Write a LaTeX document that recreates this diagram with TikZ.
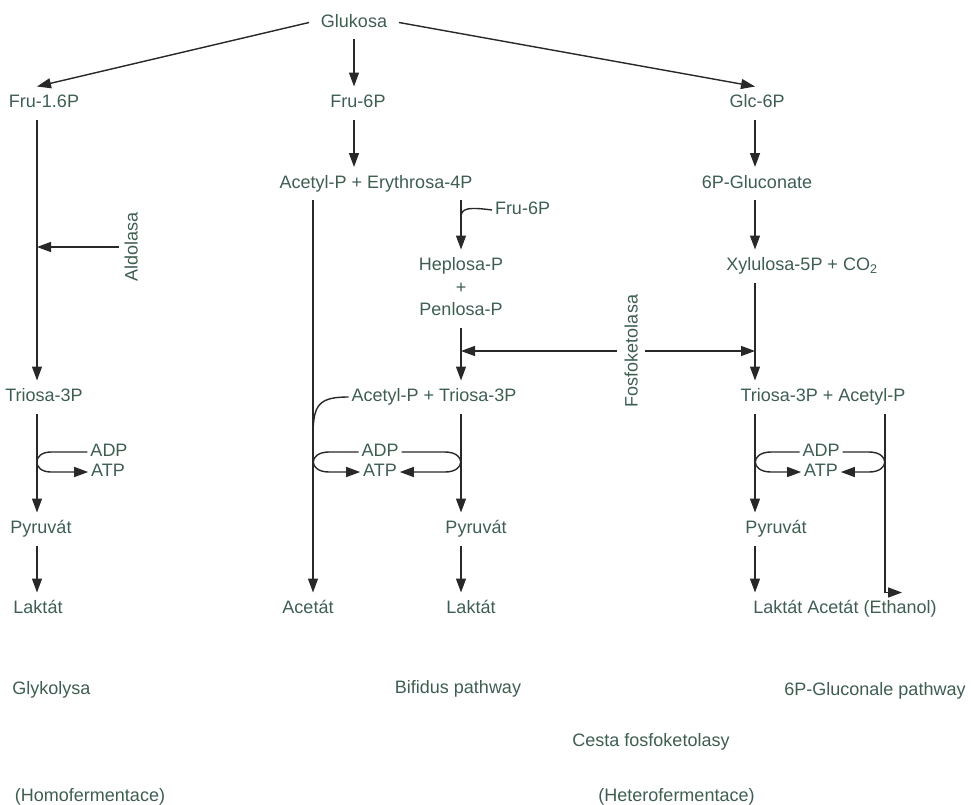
\documentclass[tikz,border=0pt]{standalone}
\usepackage{fontspec}
\setmainfont{Liberation Sans}
\usetikzlibrary{arrows.meta,calc}
\definecolor{txtc}{RGB}{62,94,80}
\definecolor{linec}{RGB}{40,40,40}
\begin{document}
\begin{tikzpicture}[x=1pt,y=-1pt,
  lbl/.style={font=\fontsize{18}{21}\selectfont, text=txtc, inner sep=0pt,
              text height=13pt, text depth=4pt, outer ysep=8pt, outer xsep=3pt},
  small/.style={lbl, outer ysep=1pt},
  ln/.style={draw=linec, line width=1.4pt},
  arr/.style={ln, -{Triangle[length=14pt,width=10pt]}}]
\useasboundingbox (0,0) rectangle (971,804);
% column positions
\coordinate (cA) at (37,0);
\coordinate (cB) at (313,0);
\coordinate (cC) at (461,0);
\coordinate (cD) at (755,0);
\coordinate (cE) at (885,0);
% nodes
\node[lbl, outer xsep=12pt] (glu) at (354,22.5) {Glukosa};
\node[lbl] (fru16) at (44,103) {Fru-1.6P};
\node[lbl] (fru6a) at (358,103) {Fru-6P};
\node[lbl] (glc) at (757,103) {Glc-6P};
\node[lbl] (acery) at (376,183.5) {Acetyl-P + Erythrosa-4P};
\node[lbl] (gluc) at (757,183.5) {6P-Gluconate};
\node[lbl, anchor=west] (fru6b) at (492,210) {Fru-6P};
\node[lbl] (hep) at (461,266) {Heplosa-P};
\node[lbl] (plus) at (461,289) {+};
\node[lbl] (pen) at (461,311) {Penlosa-P};
\node[lbl] (xyl) at (802,266) {Xylulosa-5P + CO\textsubscript{2}};
\node[lbl, rotate=90] (fosfo) at (633,351) {Fosfoketolasa};
\node[lbl, rotate=90] (aldo) at (133,247) {Aldolasa};
\node[lbl] (triL) at (44,397) {Triosa-3P};
\node[lbl] (actri) at (434,397) {Acetyl-P + Triosa-3P};
\node[lbl] (triac) at (823,397) {Triosa-3P + Acetyl-P};
\node[small] (adp1) at (109,452) {ADP};
\node[small] (atp1) at (108,472) {ATP};
\node[small] (adp2) at (380,452) {ADP};
\node[small] (atp2) at (380,472) {ATP};
\node[small] (adp3) at (821,452) {ADP};
\node[small] (atp3) at (821,472) {ATP};
\node[lbl] (pyr1) at (41,529) {Pyruvát};
\node[lbl] (pyr2) at (476,529) {Pyruvát};
\node[lbl] (pyr3) at (776,529) {Pyruvát};
\node[lbl] (lak1) at (38,609) {Laktát};
\node[lbl] (ace) at (308,609) {Acetát};
\node[lbl] (lak2) at (471,609) {Laktát};
\node[lbl] (lakace) at (845,609) {Laktát Acetát (Ethanol)};
\node[lbl] (glyk) at (51.5,690) {Glykolysa};
\node[lbl] (bifid) at (458,689) {Bifidus pathway};
\node[lbl] (glucpw) at (875,691) {6P-Gluconale pathway};
\node[lbl] (cesta) at (651,742) {Cesta fosfoketolasy};
\node[lbl] (homo) at (90,797) {(Homofermentace)};
\node[lbl] (hetero) at (676.5,797) {(Heterofermentace)};
% top arrows
\draw[arr] (glu.west) -- (fru16.north -| cA);
\draw[arr] (glu.south) -- (fru6a.north -| glu.south);
\draw[arr] (glu.east) -- (glc.north -| cD);
% glycolysis
\draw[arr] (fru16.south -| cA) -- (triL.north -| cA);
\draw[arr] ($(aldo.center)+(-14,0)$) -- (aldo.center -| cA);
\draw[arr] (triL.south -| cA) -- (pyr1.north -| cA);
\draw[arr] (pyr1.south -| cA) -- (lak1.north -| cA);
\draw[arr] (adp1.west) -- ($(adp1.west -| cA)+(14,0)$)
  .. controls ($(adp1.west -| cA)+(-5,0)$) and ($(atp1.west -| cA)+(-5,0)$)
  .. ($(atp1.west -| cA)+(14,0)$) -- (atp1.west);
% bifidus
\draw[arr] (fru6a.south -| glu.south) -- (acery.north -| glu.south);
\draw[arr] (acery.south -| cB) -- (ace.north -| cB);
\draw[arr] (acery.south -| cC) -- (hep.north -| cC);
\draw[ln] (fru6b.west) .. controls ($(fru6b.west -| cC)+(8,-3)$) and ($(fru6b.west -| cC)+(1,-2)$)
  .. ($(fru6b.west -| cC)+(0,6)$);
\draw[arr] (pen.south -| cC) -- (actri.north -| cC);
\draw[ln] (actri.west) .. controls ($(actri.west -| cB)+(5,0)$) and ($(actri.west -| cB)+(0,8)$)
  .. ($(actri.west -| cB)+(0,40)$);
\draw[arr] (actri.south -| cC) -- (pyr2.north -| cC);
\draw[arr] (pyr2.south -| cC) -- (lak2.north -| cC);
\draw[arr] (adp2.west) -- ($(adp2.west -| cB)+(16,0)$)
  .. controls ($(adp2.west -| cB)+(-5,0)$) and ($(atp2.west -| cB)+(-5,0)$)
  .. ($(atp2.west -| cB)+(16,0)$) -- (atp2.west);
\draw[arr] (adp2.east) -- ($(adp2.east -| cC)+(-16,0)$)
  .. controls ($(adp2.east -| cC)+(5,0)$) and ($(atp2.east -| cC)+(5,0)$)
  .. ($(atp2.east -| cC)+(-16,0)$) -- (atp2.east);
% fosfoketolasa
\draw[arr] ($(fosfo.center)+(-16,0)$) -- (fosfo.center -| cC);
\draw[arr] ($(fosfo.center)+(12,0)$) -- (fosfo.center -| cD);
% 6P-gluconate pathway
\draw[arr] (glc.south -| cD) -- (gluc.north -| cD);
\draw[arr] (gluc.south -| cD) -- (xyl.north -| cD);
\draw[arr] (xyl.south -| cD) -- (triac.north -| cD);
\draw[arr] (triac.south -| cD) -- (pyr3.north -| cD);
\draw[arr] (pyr3.south -| cD) -- (lakace.north -| cD);
\draw[arr] (triac.south -| cE) -- (lakace.north -| cE) -- ++(17,0);
\draw[arr] (adp3.west) -- ($(adp3.west -| cD)+(16,0)$)
  .. controls ($(adp3.west -| cD)+(-5,0)$) and ($(atp3.west -| cD)+(-5,0)$)
  .. ($(atp3.west -| cD)+(16,0)$) -- (atp3.west);
\draw[arr] (adp3.east) -- ($(adp3.east -| cE)+(-16,0)$)
  .. controls ($(adp3.east -| cE)+(5,0)$) and ($(atp3.east -| cE)+(5,0)$)
  .. ($(atp3.east -| cE)+(-16,0)$) -- (atp3.east);
\end{tikzpicture}
\end{document}
